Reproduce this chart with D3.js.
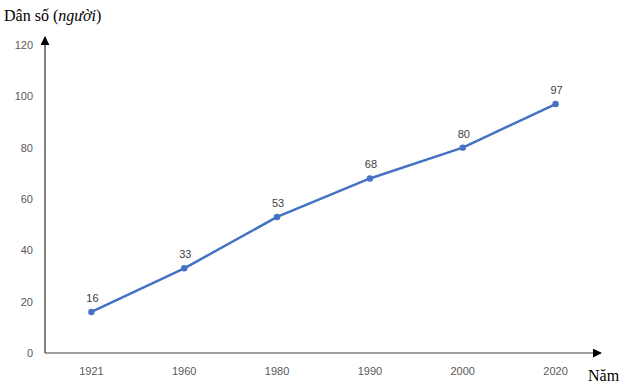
<!DOCTYPE html>
<html>
<head>
<meta charset="utf-8">
<script src="https://cdn.jsdelivr.net/npm/d3@7"></script>
<style>
body { margin: 0; background: #fff; }
svg { display: block; }
</style>
</head>
<body>
<script>
var years = ["1921", "1960", "1980", "1990", "2000", "2020"];
var population = [16, 33, 53, 68, 80, 97];
var yTicks = [0, 20, 40, 60, 80, 100, 120];

var W = 632, H = 387;
var plotL = 45, plotR = 602, plotT = 45, plotB = 353;

var svg = d3.select("body").append("svg")
  .attr("width", W).attr("height", H);

var x = d3.scaleBand().domain(years).range([plotL, plotR]);
var y = d3.scaleLinear().domain([0, 120]).range([plotB, plotT]);

// arrow heads
var defs = svg.append("defs");
defs.append("marker").attr("id", "arr")
  .attr("viewBox", "0 0 10 10").attr("refX", 9).attr("refY", 5)
  .attr("markerWidth", 9).attr("markerHeight", 9)
  .attr("markerUnits", "userSpaceOnUse")
  .attr("orient", "auto")
  .append("path").attr("d", "M0,0 L10,5 L0,10 Z").attr("fill", "#000");

// axes lines
svg.append("line")
  .attr("x1", plotL).attr("y1", plotB).attr("x2", plotL).attr("y2", plotT - 8)
  .attr("stroke", "#000").attr("stroke-width", 1)
  .attr("marker-end", "url(#arr)");
svg.append("line")
  .attr("x1", plotL).attr("y1", plotB).attr("x2", plotR - 1).attr("y2", plotB)
  .attr("stroke", "#404040").attr("stroke-width", 1)
  .attr("marker-end", "url(#arr)");

// y tick labels
svg.selectAll("text.yt").data(yTicks).enter().append("text")
  .attr("class", "yt")
  .attr("x", 33).attr("y", function(d) { return y(d); })
  .attr("dy", "0.35em")
  .attr("text-anchor", "end")
  .attr("font-family", "Liberation Sans, Arial, sans-serif")
  .attr("font-size", 11).attr("fill", "#595959")
  .text(function(d) { return d; });

// x tick labels
svg.selectAll("text.xt").data(years).enter().append("text")
  .attr("class", "xt")
  .attr("x", function(d) { return x(d) + x.bandwidth() / 2; })
  .attr("y", 375)
  .attr("text-anchor", "middle")
  .attr("font-family", "Liberation Sans, Arial, sans-serif")
  .attr("font-size", 11).attr("fill", "#595959")
  .text(function(d) { return d; });

var pts = years.map(function(d, i) { return { year: d, v: population[i] }; });

var line = d3.line()
  .x(function(d) { return x(d.year) + x.bandwidth() / 2; })
  .y(function(d) { return y(d.v); });

svg.append("path").datum(pts)
  .attr("d", line)
  .attr("fill", "none")
  .attr("stroke", "#4472C4")
  .attr("stroke-width", 2.5)
  .attr("stroke-linejoin", "round")
  .attr("stroke-linecap", "round");

svg.selectAll("circle.pt").data(pts).enter().append("circle")
  .attr("class", "pt")
  .attr("cx", function(d) { return x(d.year) + x.bandwidth() / 2; })
  .attr("cy", function(d) { return y(d.v); })
  .attr("r", 3.2)
  .attr("fill", "#4472C4");

svg.selectAll("text.lbl").data(pts).enter().append("text")
  .attr("class", "lbl")
  .attr("x", function(d) { return x(d.year) + x.bandwidth() / 2 + 1; })
  .attr("y", function(d) { return y(d.v) - 10; })
  .attr("text-anchor", "middle")
  .attr("font-family", "Liberation Sans, Arial, sans-serif")
  .attr("font-size", 11).attr("fill", "#404040")
  .text(function(d) { return d.v; });

// axis titles
var t = svg.append("text")
  .attr("x", 4).attr("y", 21)
  .attr("font-family", "Liberation Serif, Times New Roman, serif")
  .attr("font-size", 16).attr("fill", "#000");
t.append("tspan").text("Dân số (");
t.append("tspan").attr("font-style", "italic").text("người");
t.append("tspan").text(")");

svg.append("text")
  .attr("x", 588).attr("y", 381)
  .attr("font-family", "Liberation Serif, Times New Roman, serif")
  .attr("font-size", 16).attr("fill", "#000")
  .text("Năm");
</script>
</body>
</html>
